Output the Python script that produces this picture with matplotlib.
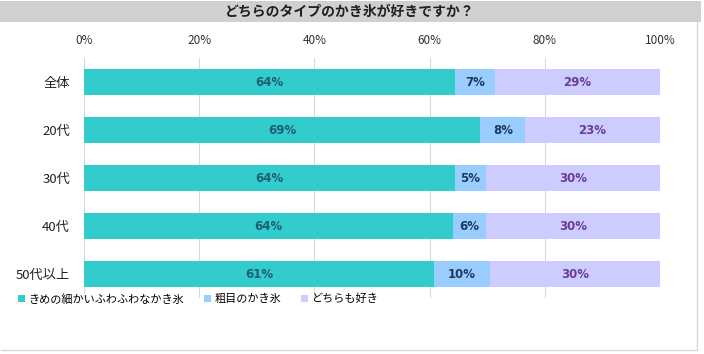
import matplotlib
matplotlib.use("Agg")
import matplotlib.pyplot as plt
from matplotlib.patches import Rectangle, Patch

plt.rcParams['font.family'] = ['Noto Sans CJK JP', 'DejaVu Sans']

title = "どちらのタイプのかき氷が好きですか？"
categories = ["全体", "20代", "30代", "40代", "50代以上"]
series_names = ["きめの細かいふわふわなかき氷", "粗目のかき氷", "どちらも好き"]
fine = [64.4, 68.8, 64.4, 64.1, 60.8]
coarse = [7.0, 7.8, 5.4, 5.7, 9.6]
both = [28.6, 23.4, 30.2, 30.2, 29.6]
xticks = [0, 20, 40, 60, 80, 100]

colors = ["#33CCCC", "#99CCFF", "#CCCCFF"]
label_colors = ["#1F5F73", "#1F3864", "#6A3D9A"]

W, H = 704, 354
fig = plt.figure(figsize=(W / 100, H / 100), dpi=100)

# title band
fig.patches.append(Rectangle((0, 1 - 22 / H), 701 / W, 21 / H, transform=fig.transFigure,
                             facecolor="#D0D0D0", edgecolor="none", zorder=0))
fig.text(350 / W, 1 - 12 / H, title, ha="center", va="center", fontsize=10,
         fontweight="bold", color="#202020")
# border lines
fig.lines.append(plt.Line2D([697 / W, 697 / W], [1 - 22 / H, 1 - 350 / H],
                            transform=fig.transFigure, color="#D9D9D9", lw=1))
fig.lines.append(plt.Line2D([1 / W, 697 / W], [1 - 350 / H, 1 - 350 / H],
                            transform=fig.transFigure, color="#D9D9D9", lw=1))

left, right = 84 / W, 660 / W
top, bottom = 1 - 58 / H, 1 - 298 / H
ax = fig.add_axes([left, bottom, right - left, top - bottom])

y = list(range(len(categories)))
data = [fine, coarse, both]
lefts = [0] * len(categories)
for vals, c, lc in zip(data, colors, label_colors):
    ax.barh(y, vals, left=lefts, height=0.54, color=c, edgecolor="none", zorder=2)
    for yi, v, l in zip(y, vals, lefts):
        ax.text(l + v / 2, yi, f"{round(v):.0f}%", ha="center", va="center",
                fontsize=8.5, fontweight="bold", color=lc, zorder=3,
                family="DejaVu Sans")
    lefts = [a + b for a, b in zip(lefts, vals)]

ax.set_xlim(0, 100)
ax.set_ylim(4.5, -0.5)
ax.set_xticks(xticks)
ax.set_xticklabels([f"{t}%" for t in xticks], fontsize=8.5, color="#333333")
ax.xaxis.tick_top()
ax.tick_params(axis="x", length=0, pad=8)
ax.set_yticks(y)
ax.set_yticklabels(categories, fontsize=9.5, color="#222222")
ax.tick_params(axis="y", length=0, pad=10)
for s in ax.spines.values():
    s.set_visible(False)
ax.xaxis.grid(True, color="#D9D9D9", lw=0.8, zorder=0)
ax.set_axisbelow(True)

handles = [Patch(facecolor=c, edgecolor="none") for c in colors]
fig.legend(handles, series_names, loc="center left", bbox_to_anchor=(14 / W, 1 - 299 / H),
           ncol=3, frameon=False, fontsize=8, handlelength=0.6, handleheight=0.6,
           handletextpad=0.3, columnspacing=1.8, borderaxespad=0)

fig.savefig("out.png", dpi=100)
